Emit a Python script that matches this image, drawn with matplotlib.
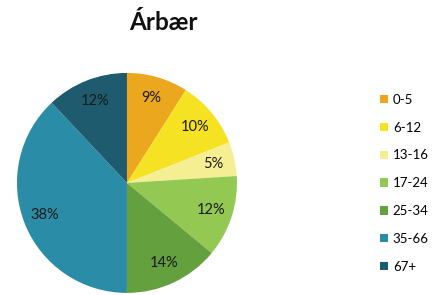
import matplotlib
matplotlib.use("Agg")
from matplotlib import pyplot as plt
from matplotlib.patches import Patch

plt.rcParams['font.family'] = ['Lato', 'DejaVu Sans']

groups = ['0-5', '6-12', '13-16', '17-24', '25-34', '35-66', '67+']
shares = [9, 10, 5, 12, 14, 38, 12]
colours = ['#EBA81E', '#F5E223', '#F6EE92', '#93C852', '#64A03D', '#2A8CA6', '#1E5B6E']

fig = plt.figure(figsize=(4.35, 2.95), dpi=100)
ax = fig.add_axes([0.039, 0.007, 0.5057, 0.7458])

ax.pie(shares, colors=colours, startangle=90, counterclock=False,
       autopct='%1.0f%%', pctdistance=0.8, radius=1,
       textprops={'fontsize': 10.5, 'color': '#1a1a1a'})
ax.set_xlim(-1, 1)
ax.set_ylim(-1, 1)
ax.set_aspect('equal')

fig.text(163 / 435, 1 - 22 / 295, 'Árbær', ha='center', va='center',
         fontsize=17.5, fontweight='bold', color='#111111')

handles = [Patch(facecolor=c, edgecolor='none') for c in colours]
fig.legend(handles, groups, loc='upper left', bbox_to_anchor=(0.862, 0.70),
           frameon=False, fontsize=9.5, handlelength=0.6, handleheight=0.6,
           handletextpad=0.35, labelspacing=1.2, borderaxespad=0)

fig.savefig('out.png', dpi=100)
